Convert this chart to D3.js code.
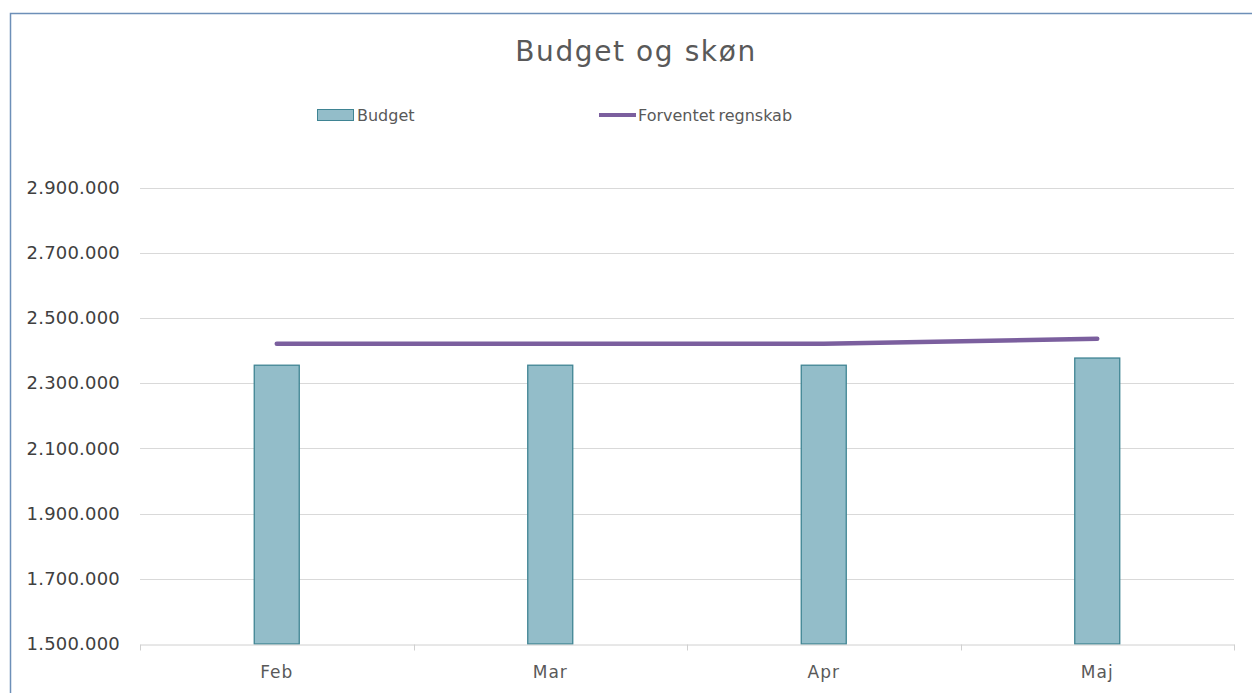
<!DOCTYPE html>
<html>
<head>
<meta charset="utf-8">
<script src="https://cdn.jsdelivr.net/npm/d3@7"></script>
<style>
  body { margin: 0; background: #fff; }
  svg { display: block; font-family: "Century Gothic", "DejaVu Sans", sans-serif; }
</style>
</head>
<body>
<div id="app"></div>
<script>
const months = ["Feb", "Mar", "Apr", "Maj"];
const budget = [2355000, 2355000, 2355000, 2377000];
const forventet = [2421000, 2421000, 2421000, 2436000];
const yTicks = [1500000, 1700000, 1900000, 2100000, 2300000, 2500000, 2700000, 2900000];

const width = 1252;
const height = 693;
const margin = { top: 187.5, right: 18, bottom: 49, left: 140 };
const font = '"Century Gothic", "DejaVu Sans", sans-serif';

const svg = d3.select('#app')
  .append('svg')
  .attr('width', width)
  .attr('height', height);

// chart frame (only left and top edges are visible)
svg.append('path')
  .attr('d', `M10.5,${height} L10.5,13.5 L${width},13.5`)
  .attr('fill', 'none')
  .attr('stroke', '#6d8fb8')
  .attr('stroke-width', 1.5);

const x = d3.scaleBand()
  .domain(months)
  .range([margin.left, width - margin.right]);

const y = d3.scaleLinear()
  .domain([1500000, 2900000])
  .range([height - margin.bottom, margin.top]);

const fmt = d => d3.format(',')(d).replace(/,/g, '.');

// gridlines
svg.append('g')
  .selectAll('line')
  .data(yTicks.slice(1))
  .enter()
  .append('line')
  .attr('x1', margin.left)
  .attr('x2', width - margin.right)
  .attr('y1', d => Math.round(y(d)) + 0.5)
  .attr('y2', d => Math.round(y(d)) + 0.5)
  .attr('stroke', '#d9d9d9')
  .attr('stroke-width', 1);

// y labels
svg.append('g')
  .selectAll('text')
  .data(yTicks)
  .enter()
  .append('text')
  .attr('x', 120)
  .attr('y', d => y(d))
  .attr('dy', '0.35em')
  .attr('text-anchor', 'end')
  .attr('fill', '#404040')
  .style('font-size', '18px')
  .style('letter-spacing', '0.2px')
  .text(fmt);

// bars
svg.append('g')
  .selectAll('rect')
  .data(budget)
  .enter()
  .append('rect')
  .attr('x', (d, i) => x(months[i]) + x.bandwidth() / 2 - 22.5)
  .attr('width', 45)
  .attr('y', d => y(d))
  .attr('height', d => y.range()[0] - y(d))
  .attr('fill', '#93bdc9')
  .attr('stroke', '#3f8493')
  .attr('stroke-width', 1.3);

// x axis
const xAxis = svg.append('g')
  .attr('transform', `translate(0,${Math.round(y(1500000)) + 0.5})`)
  .call(d3.axisBottom(x).tickSize(0).tickPadding(21))
  .call(g => g.select('.domain').attr('stroke', '#d0d0d0'))
  .call(g => g.selectAll('text')
    .attr('fill', '#595959')
    .style('font-size', '17px')
    .style('letter-spacing', '1px')
    .style('font-family', font));

xAxis.selectAll('.sep')
  .data(months.concat(['end']))
  .enter()
  .append('line')
  .attr('class', 'sep')
  .attr('x1', (d, i) => Math.round(margin.left + i * x.step()) + 0.5)
  .attr('x2', (d, i) => Math.round(margin.left + i * x.step()) + 0.5)
  .attr('y1', 0)
  .attr('y2', 6)
  .attr('stroke', '#d0d0d0');

// line
const line = d3.line()
  .x((d, i) => x(months[i]) + x.bandwidth() / 2)
  .y(d => y(d));

svg.append('path')
  .datum(forventet)
  .attr('d', line)
  .attr('fill', 'none')
  .attr('stroke', '#7b5f9e')
  .attr('stroke-width', 4.5)
  .attr('stroke-linecap', 'round');

// title
svg.append('text')
  .attr('x', 636)
  .attr('y', 61)
  .attr('text-anchor', 'middle')
  .attr('fill', '#595959')
  .style('font-size', '28px')
  .style('letter-spacing', '1.6px')
  .text('Budget og skøn');

// legend
const legend = svg.append('g');
legend.append('rect')
  .attr('x', 317.5)
  .attr('y', 109.5)
  .attr('width', 36)
  .attr('height', 11)
  .attr('fill', '#93bdc9')
  .attr('stroke', '#3f8493');
legend.append('text')
  .attr('x', 357)
  .attr('y', 115)
  .attr('dy', '0.35em')
  .attr('fill', '#595959')
  .style('font-size', '16px')
  .text('Budget');
legend.append('line')
  .attr('x1', 599)
  .attr('x2', 636)
  .attr('y1', 115)
  .attr('y2', 115)
  .attr('stroke', '#7b5f9e')
  .attr('stroke-width', 4);
legend.append('text')
  .attr('x', 638)
  .attr('y', 115)
  .attr('dy', '0.35em')
  .attr('fill', '#595959')
  .style('font-size', '16px')
  .style('word-spacing', '-1.5px')
  .text('Forventet regnskab');
</script>
</body>
</html>
